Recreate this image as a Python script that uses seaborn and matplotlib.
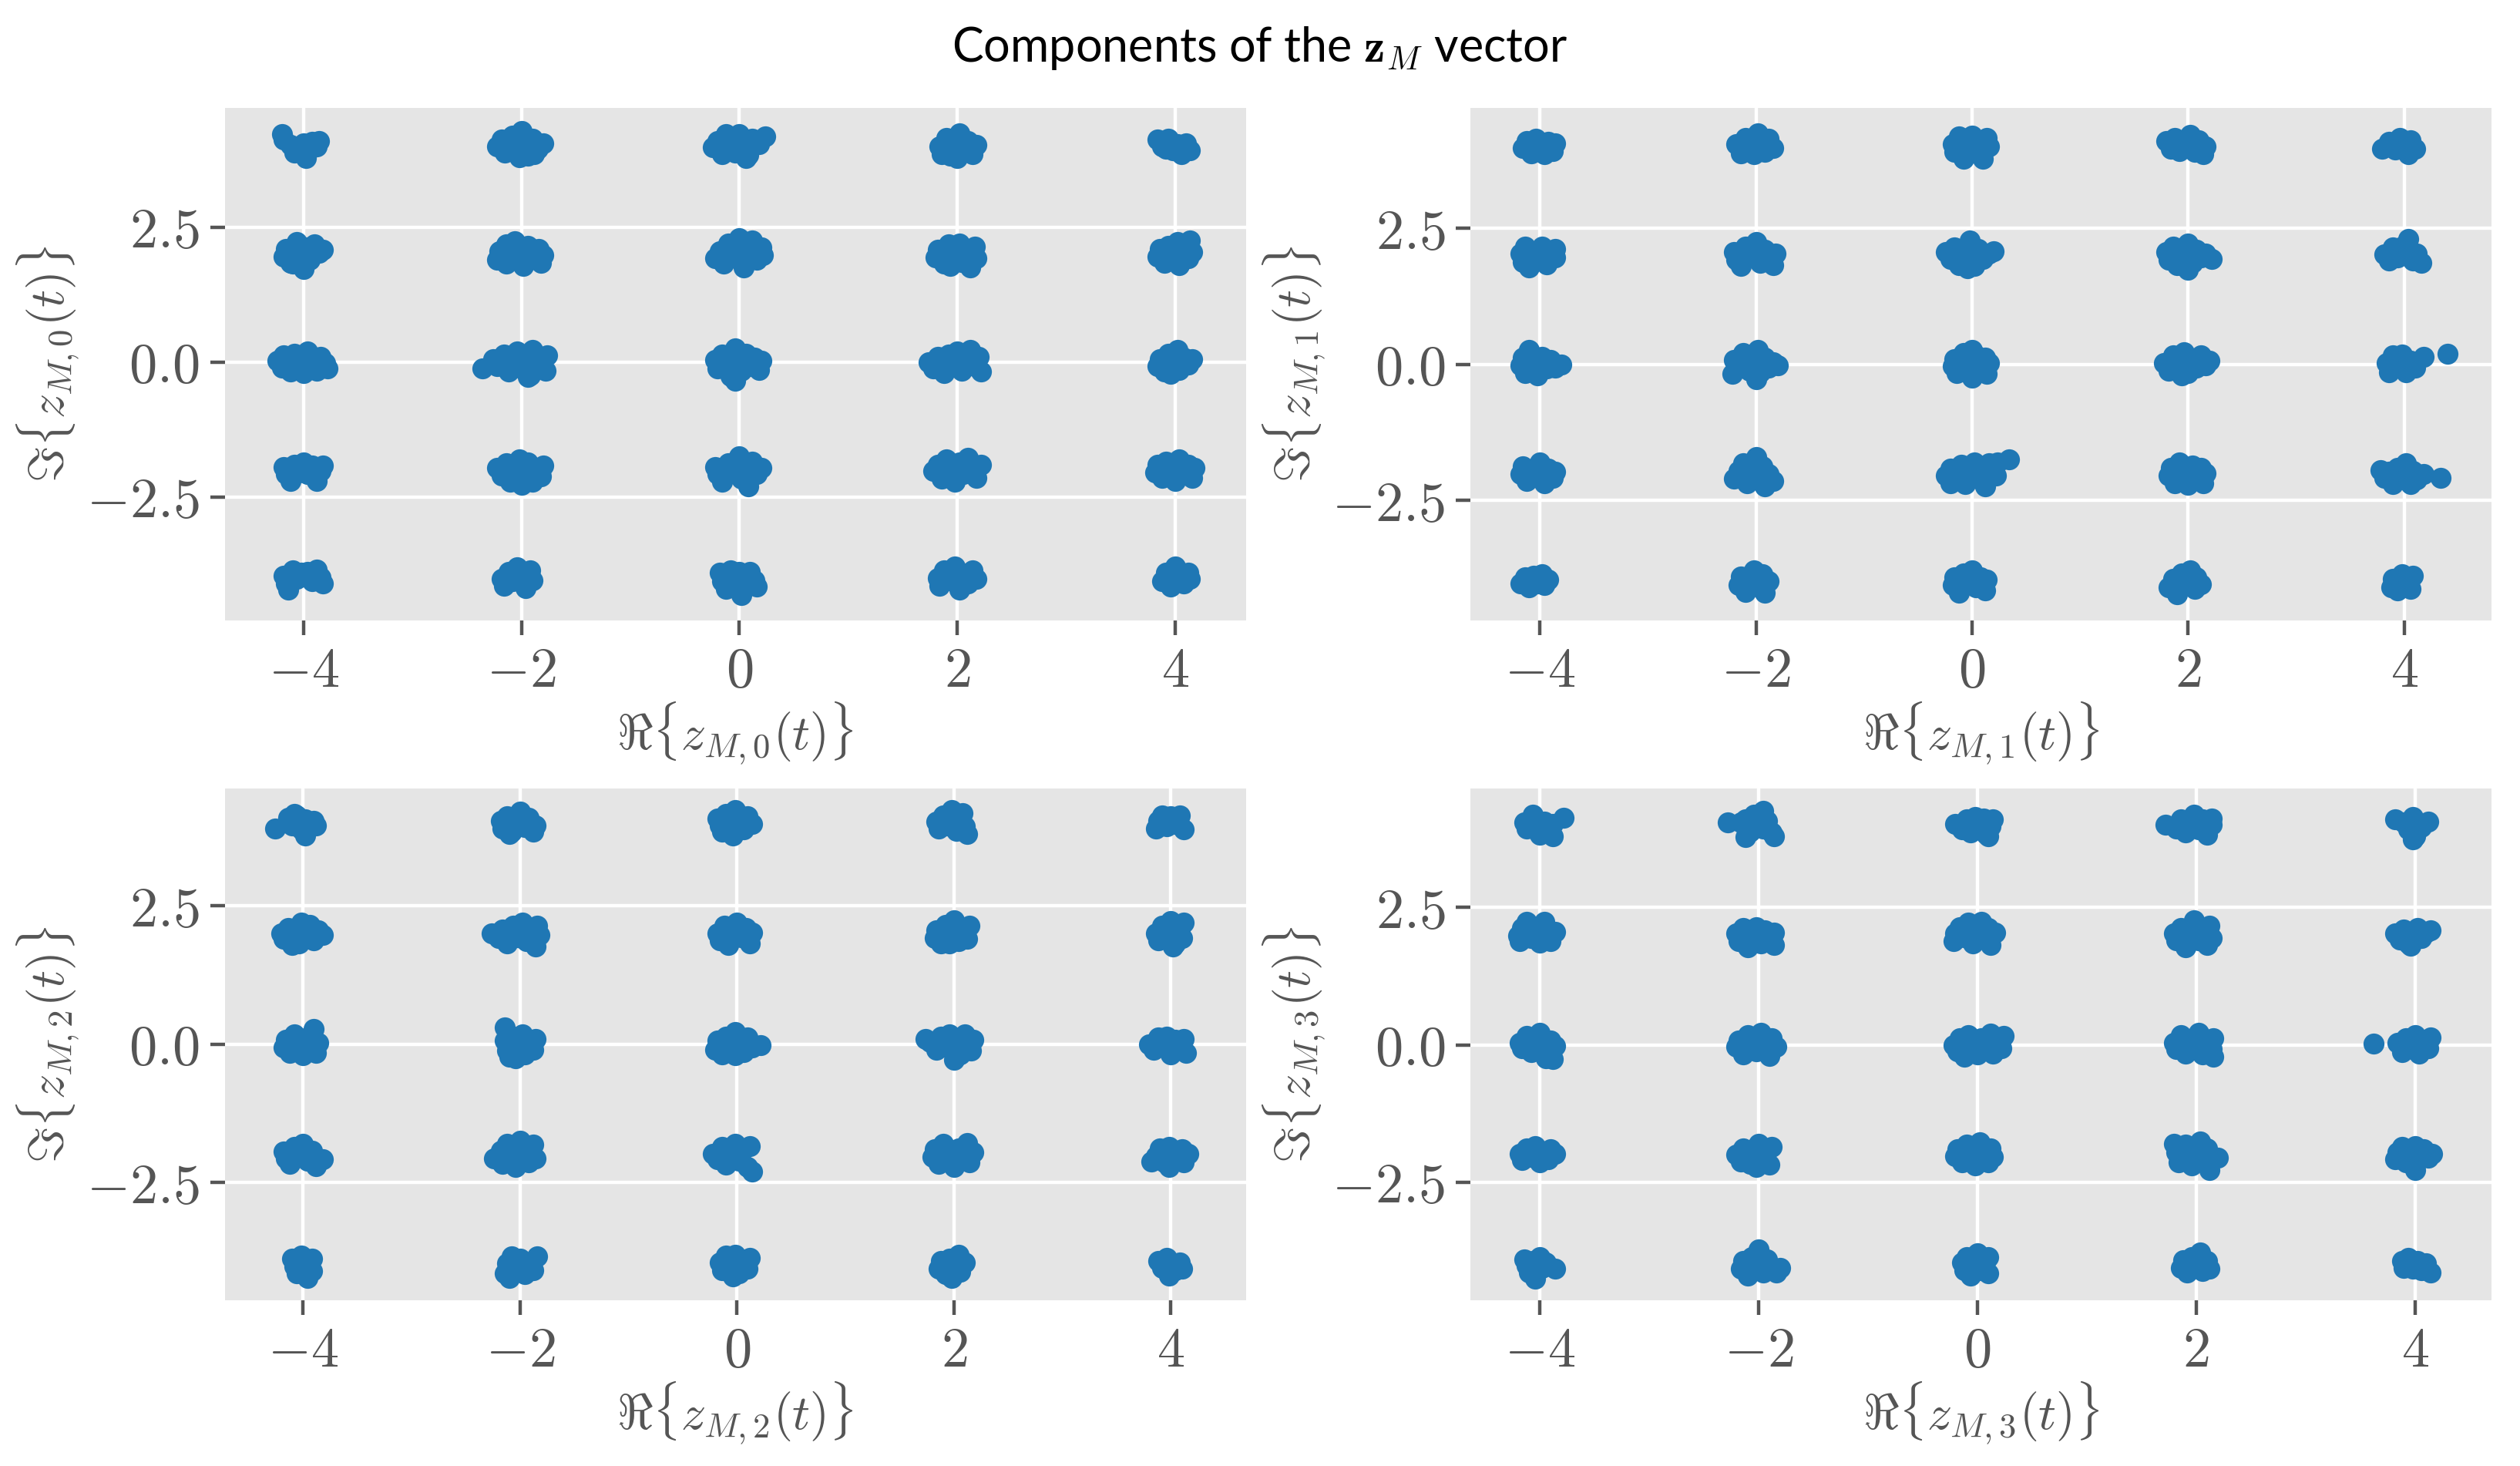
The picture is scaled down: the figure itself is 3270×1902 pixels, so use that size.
import matplotlib
matplotlib.use("Agg")
import matplotlib.pyplot as plt
import seaborn as sns
import pandas as pd

# ---------------- data ----------------
symbols_re = [-4, -2, 0, 2, 4]
symbols_im = [4, 2, 0, -2, -4]

# noise offsets (hundredths) for each constellation cluster, rows = symbols_im, cols = symbols_re
offsets_z0 = [
    "-20 22,-18 12,-12 2,-5 -5,0 6,4 -10,8 8,12 0,2 -22,14 10,-8 -12",
    "-22 0,-18 12,-15 -12,-8 20,-5 -5,0 28,3 8,6 -18,10 14,15 -5,20 5,-2 -20,12 -15",
    "-24 -2,-20 10,-16 -14,-8 8,-4 -12,0 22,4 0,8 -16,12 14,18 4,24 18,-12 22,6 -22",
    "-16 0,-14 -14,-10 16,-4 4,0 -22,2 24,6 -6,10 10,14 -14,18 2,-6 -18",
    "-16 12,-12 0,-6 14,-2 -8,2 4,6 -14,10 6,14 -8,-8 -4",
    "-18 -4,-16 10,-12 -16,-6 22,-4 0,0 -28,2 12,6 -10,10 18,14 2,18 8,-10 -18",
    "-22 -10,-20 6,-14 18,-10 -8,-6 24,-2 2,2 -22,6 16,10 -6,16 10,20 -2,18 -16,-14 -18",
    "-22 -8,-18 6,-14 -18,-10 20,-6 -4,0 30,2 10,4 -24,8 2,12 26,16 -10,22 -2,20 12",
    "-20 -6,-18 8,-12 -18,-8 18,-2 -2,2 20,4 -14,8 6,12 -24,16 14,18 -8,-6 -22",
    "-16 -4,-14 10,-10 -16,-6 16,-2 -2,2 22,4 -20,8 8,12 -8,14 26,16 4",
    "-24 2,-20 -10,-18 12,-12 -18,-8 16,-4 2,0 -20,4 20,8 -6,12 -16,16 10,20 -2,22 -12",
    "-36 -12,-26 6,-22 -8,-16 14,-12 -18,-8 4,-4 20,0 -12,4 12,8 -24,10 22,14 -6,18 6,22 -16,24 12,6 -28",
    "-22 4,-20 -12,-16 14,-10 -4,-8 -26,-4 26,0 6,2 -16,6 16,10 -8,14 8,18 -14,20 2,-4 -34",
    "-26 0,-22 -12,-18 10,-12 -20,-8 14,-4 -4,0 20,4 -16,8 6,12 22,16 -8,20 10,22 -18",
    "-16 -8,-14 6,-10 -18,-6 16,-2 0,2 22,4 -14,8 8,12 -4,16 6,-4 -22",
    "-18 6,-16 -8,-12 -20,-8 10,-4 -4,0 14,4 -8,8 8,12 -20,16 -2,18 8",
    "-22 4,-18 -10,-14 12,-10 -22,-6 0,-2 20,2 -10,6 14,10 -22,14 4,18 -12,20 8,0 -28",
    "-22 6,-20 -8,-16 -22,-10 12,-6 -4,0 26,2 -16,4 8,8 -30,12 16,16 -8,20 4",
    "-22 -2,-18 10,-14 -16,-10 20,-6 0,-2 -22,2 14,6 -8,10 22,14 2,18 -14,22 10",
    "-18 -4,-16 10,-12 -14,-8 16,-4 2,0 -20,4 20,8 -6,12 10,16 -14,18 4",
    "-18 4,-16 -10,-14 -22,-10 14,-6 -2,-2 10,4 12,8 -6,12 16,16 2,18 -10",
    "-18 -2,-16 -14,-12 12,-8 -6,-4 20,0 2,4 -18,8 14,10 -4",
    "-18 10,-16 -6,-12 -20,-8 14,-4 -4,0 12,2 -32,6 -10,10 12,14 -4,16 -16",
    "-18 0,-16 -14,-12 14,-6 -4,-2 22,2 -22,6 8,10 -10,14 14,18 -2",
    "-12 -6,-8 10,-4 -16,0 22,4 0,8 -10,12 10,14 -2",
]
offsets_z1 = [
    "-16 -2,-12 10,-8 -12,-4 14,0 0,4 -14,8 8,12 -8,14 6",
    "-18 4,-14 -12,-10 16,-6 0,-2 -14,2 24,4 6,8 -10,12 14,16 -2",
    "-18 4,-16 -10,-12 18,-8 -22,-4 2,0 20,4 -10,8 8,10 -22,14 16,16 0",
    "-20 10,-16 -4,-12 16,-8 -8,-2 6,2 22,6 -10,10 12,14 -14,16 0",
    "-20 -4,-14 8,-8 -6,-4 16,0 2,4 -14,6 12,10 -4",
    "-18 4,-16 -12,-14 16,-10 -22,-6 8,-2 -8,2 16,6 -16,10 6,14 -4,14 12",
    "-20 6,-18 -8,-14 -20,-10 16,-4 -2,0 24,4 -14,8 10,12 -6,16 -18,18 4",
    "-24 6,-20 -6,-16 14,-12 -18,-6 2,-2 28,2 -20,6 12,10 -6,16 4,20 8,-4 -24",
    "-20 6,-18 -8,-14 16,-10 -18,-4 2,0 22,4 -14,8 10,12 -4,16 4,22 -6,0 -26",
    "-18 2,-14 -10,-10 14,-6 -4,-2 16,2 0,4 30,8 -10,12 4,16 -14",
    "-18 -2,-16 12,-14 -16,-10 26,-6 2,-2 -20,2 14,6 -8,10 8,14 -6,20 0",
    "-22 -18,-20 8,-16 -4,-12 20,-6 -12,-2 6,2 26,4 -14,8 12,12 -6,16 4,20 -2,0 -28",
    "-18 -4,-16 10,-14 -16,-8 20,-4 2,0 -24,4 16,8 -8,12 12,14 -18,16 2,0 26",
    "-22 2,-18 -12,-14 16,-10 -4,-4 22,0 -16,4 10,8 -6,12 16,16 -2,20 6,-6 -20",
    "-16 2,-14 -14,-10 16,-6 -4,-2 18,2 -14,6 6,10 -6,18 14,40 19",
    "-18 -2,-16 12,-12 -14,-8 6,-4 -6,0 20,4 -18,8 8,12 -8,14 2",
    "-20 -10,-16 4,-12 18,-8 -18,-4 8,0 30,2 -6,6 12,8 -24,12 -2,16 -14",
    "-24 -4,-20 8,-20 -18,-14 -8,-10 16,-6 -20,-2 4,2 20,6 -10,10 8,12 -24,16 18,22 -4,24 20,34 26",
    "-18 -4,-16 10,-12 -18,-8 20,-4 2,0 -22,4 14,8 -6,12 10,14 -18,16 0",
    "-22 6,-18 -8,-14 2,-10 -20,-6 10,-2 -6,2 18,6 -20,8 4,12 -12,18 -2,34 -8",
    "-18 -2,-14 8,-10 -10,-6 12,-2 -2,2 14,4 -6,8 4",
    "-16 -6,-14 10,-10 -18,-6 6,-2 22,2 -8,6 14,8 -20,12 2",
    "-18 -6,-16 8,-12 -20,-8 16,-4 -2,0 22,4 -10,8 8,12 -16,14 4",
    "-18 -10,-14 6,-10 -22,-6 16,-2 0,2 22,6 -12,8 8,12 -4",
    "-12 -10,-10 6,-6 -16,-2 14,2 0,6 -12,8 12",
]
offsets_z2 = [
    "-26 -10,-14 10,-10 -4,-6 14,-2 -12,2 6,6 -8,10 4,2 -22,12 -4,-8 16",
    "-18 4,-16 -10,-12 12,-8 -16,-4 6,0 20,4 -8,8 10,12 -16,14 -4,-10 -20",
    "-18 8,-16 -4,-14 -16,-10 16,-6 -6,-2 24,2 6,6 -12,10 12,14 -2,-4 -22",
    "-16 2,-14 -10,-10 14,-6 -4,-2 24,2 -14,6 6,10 -6,12 -20,8 18",
    "-14 -10,-12 4,-8 14,-4 -6,0 12,4 -2,8 14,12 -12",
    "-20 0,-18 -10,-14 10,-10 -20,-6 4,-2 20,2 -8,6 16,10 -12,14 6,18 -2,-4 -18",
    "-26 0,-20 -8,-16 8,-12 -18,-6 14,-2 -6,2 20,6 -14,10 6,14 -24,16 14,18 -2",
    "-18 0,-16 -12,-12 14,-8 -20,-4 6,0 20,4 -6,8 10,12 -18,14 2",
    "-18 -8,-16 6,-12 -18,-8 16,-4 -4,0 24,4 -14,8 8,12 -10,14 14,-4 -18",
    "-14 0,-12 -12,-8 14,-4 -2,0 22,4 -18,8 8,10 -8,12 20,2 -24",
    "-18 -6,-16 8,-12 -16,-8 18,-4 0,0 -20,4 12,8 -6,10 28,12 -16,14 2",
    "-14 30,-14 6,-12 -12,-10 -22,-6 14,-2 -2,2 18,4 -18,8 6,12 -10,14 10,-4 -26",
    "-20 -10,-18 6,-14 -18,-10 14,-6 -4,-2 22,2 2,6 -14,10 12,14 -6,22 -2,-2 -20",
    "-26 10,-22 4,-16 -10,-12 14,-8 -4,-4 18,0 -28,2 6,6 -18,10 18,12 0,16 -12,18 8",
    "-20 0,-16 -10,-12 12,-8 -4,-4 14,0 -18,4 8,8 -6,12 10,14 -16",
    "-18 6,-16 -6,-12 -16,-8 14,-4 -2,0 20,4 -10,8 8,12 -20,18 -8",
    "-24 -6,-18 8,-16 -16,-12 20,-8 -4,-4 -22,0 26,4 4,8 -14,12 18,14 -6,-6 8",
    "-22 2,-18 -8,-14 14,-10 -18,-6 4,-2 20,2 -10,6 10,10 -22,12 16,14 -30",
    "-20 -4,-18 10,-14 -16,-10 20,-4 0,0 -22,4 12,8 -6,12 22,14 -14,18 4",
    "-18 -12,-14 -2,-10 12,-6 -14,-2 14,2 2,6 -8,10 10,12 -14,16 2,-2 -22",
    "-10 12,-8 -2,-6 -14,-2 18,2 0,4 -22,8 12,8 -10",
    "-14 -14,-12 4,-8 16,-4 -4,0 12,4 -16,8 6,12 -8,16 16,-10 -22",
    "-16 6,-14 -8,-10 18,-6 -4,-2 20,2 -14,6 8,10 -6,12 14,-4 -20",
    "-14 -6,-12 8,-8 -16,-4 12,0 -2,4 20,6 -12,10 6,-2 -22",
    "-12 8,-8 -4,-4 14,0 4,4 -8,8 6,-2 -18,10 -6",
]
offsets_z3 = [
    "-14 4,-12 -6,-8 12,-4 -4,0 -18,4 6,8 -10,12 2,-6 18,12 -20,22 13",
    "-16 4,-12 10,-8 -12,-4 18,0 -4,4 26,8 8,12 -14,14 -20,-12 -22,4 -6,-28 4",
    "-20 2,-14 -8,-10 10,-6 -14,-2 14,2 -4,6 12,8 -16,12 -2,14 10,10 -20",
    "-28 0,-18 -6,-14 10,-10 -14,-6 4,-2 18,2 -8,6 10,10 -18,14 0,14 12",
    "-18 10,-10 4,-6 -8,-2 14,0 -20,2 4,6 -4,12 6,-2 -26",
    "-20 -2,-18 -12,-16 12,-12 24,-8 -6,-4 10,0 -14,4 24,6 2,10 -12,14 6",
    "-20 2,-18 -12,-14 12,-10 -22,-6 0,-2 14,2 -16,6 8,10 -6,14 4,14 -18",
    "-22 -12,-20 2,-16 14,-12 -4,-8 22,-4 -16,0 6,4 24,8 -8,10 12,12 -18,16 4",
    "-20 2,-18 -10,-14 12,-10 -22,-6 4,-2 26,2 -10,6 8,10 -18,12 16,14 -6",
    "-18 2,-14 -8,-10 10,-6 -16,-2 2,2 12,6 -6,10 4,14 8,-4 -20",
    "-18 4,-16 -6,-12 16,-8 -14,-4 2,0 22,4 -10,6 -24,10 8,14 -2,12 -26",
    "-20 -4,-18 8,-14 -18,-10 18,-6 2,-2 -12,2 22,6 2,10 -20,12 12,16 -4",
    "-22 0,-18 -12,-16 12,-12 -22,-8 18,-4 -2,0 -18,4 12,8 -6,12 20,14 -16,18 4,24 16,22 -6",
    "-20 4,-18 -8,-14 18,-10 -16,-6 8,-2 -4,2 22,6 -18,10 6,14 -8,16 12,16 -22",
    "-38 2,-16 4,-12 -14,-8 12,-4 -4,0 18,4 -16,8 8,12 -6,14 14,-2 -8",
    "-18 2,-16 -10,-12 12,-8 -4,-4 16,0 -14,4 6,8 -8,10 10,14 2",
    "-20 0,-16 -12,-14 12,-8 -16,-4 4,0 20,4 -10,8 8,10 -18,12 14,-2 -22",
    "-20 -2,-18 10,-14 -14,-10 18,-6 -2,-2 -20,2 22,6 4,10 -14,12 12,14 -4",
    "-20 20,-18 4,-16 -14,-10 18,-8 -4,-4 -20,0 8,4 24,6 -12,10 12,12 -28,20 -6",
    "-18 -8,-16 4,-12 14,-8 -14,-4 0,0 16,4 -8,8 10,12 -6,16 2,0 -28",
    "-14 10,-12 -2,-10 -14,-6 6,-4 -26,0 14,2 -6,6 4,14 -8",
    "-16 -8,-14 6,-10 -20,-6 14,-2 0,0 28,4 -14,8 10,12 -4,16 -14,20 -6",
    "-14 4,-12 -10,-10 14,-6 -20,-2 2,0 20,4 -10,8 8,10 -16,10 14",
    "-14 -6,-12 8,-8 -14,-4 14,0 0,4 22,6 -12,10 6,12 -8",
    "-12 6,-10 -6,-6 12,-2 -8,2 6,6 -10,10 2,14 -14",
]
panel_offsets = [offsets_z0, offsets_z1, offsets_z2, offsets_z3]
panel_index = [0, 1, 2, 3]

xtick_values = [-4, -2, 0, 2, 4]
xtick_labels = ["$-4$", "$-2$", "$0$", "$2$", "$4$"]
ytick_values = [-2.5, 0.0, 2.5]
ytick_labels = ["$-2.5$", "$0.0$", "$2.5$"]

xlims = [(-4.72, 4.65), (-4.64, 4.81), (-4.72, 4.69), (-4.63, 4.70)]
ylims = [(-4.78, 4.71), (-4.70, 4.71), (-4.63, 4.63), (-4.65, 4.67)]

title_text = r"Components of the $\mathbf{z}_M$ vector"


def build_frame(offsets):
    rows = []
    for i, im in enumerate(symbols_im):
        for j, re in enumerate(symbols_re):
            for pair in offsets[i * 5 + j].split(","):
                dx, dy = pair.split()
                rows.append((re + int(dx) / 100.0, im + int(dy) / 100.0))
    return pd.DataFrame(rows, columns=["re", "im"])


# ---------------- style ----------------
plt.style.use("ggplot")
plt.rcParams.update({
    "mathtext.fontset": "cm",
    "axes.facecolor": "#E5E5E5",
    "axes.edgecolor": "white",
    "grid.color": "white",
    "grid.linewidth": 0.8,
    "xtick.color": "#555555",
    "ytick.color": "#555555",
    "axes.labelcolor": "#555555",
    "xtick.major.size": 3.5,
    "ytick.major.size": 3.5,
    "xtick.major.width": 0.8,
    "ytick.major.width": 0.8,
    "xtick.major.pad": 2.5,
    "ytick.major.pad": 2.5,
})
plt.rcParams["font.family"] = ["Lato", "DejaVu Sans"]

fig, axes = plt.subplots(2, 2, figsize=(8.175, 4.755), dpi=400)
fig.subplots_adjust(left=0.0893, right=0.9887, bottom=0.113, top=0.9264,
                    wspace=0.2204, hspace=0.328)

for k, ax in zip(panel_index, axes.flat):
    df = build_frame(panel_offsets[k])
    sns.scatterplot(data=df, x="re", y="im", ax=ax, color="#1f77b4",
                    s=24, linewidth=0, alpha=1.0, zorder=3)
    ax.set_xlim(*xlims[k])
    ax.set_ylim(*ylims[k])
    ax.set_xticks(xtick_values)
    ax.set_xticklabels(xtick_labels, fontsize=13)
    ax.set_yticks(ytick_values)
    ax.set_yticklabels(ytick_labels, fontsize=13)
    ax.set_xlabel(r"$\Re\{z_{M,%d}(t)\}$" % k, fontsize=11.5, labelpad=1)
    ax.set_ylabel(r"$\Im\{z_{M,%d}(t)\}$" % k, fontsize=11.5, labelpad=1)
    ax.grid(True, color="white", linewidth=0.8)
    ax.set_axisbelow(True)
    for sp in ax.spines.values():
        sp.set_visible(False)

fig.suptitle(title_text, fontsize=11, y=0.967, va="center", color="black")
fig.savefig("out.png", dpi=400)
